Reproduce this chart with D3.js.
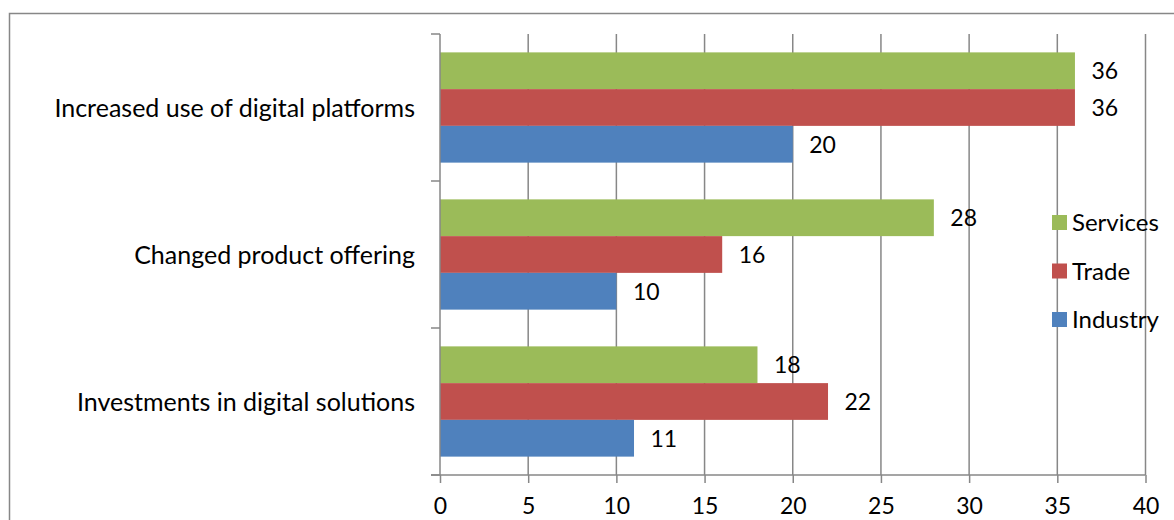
<!DOCTYPE html>
<html>
<head>
<meta charset="utf-8">
<script src="https://cdn.jsdelivr.net/npm/d3@7"></script>
<style>
  html, body { margin: 0; padding: 0; background: #fff; }
  svg { display: block; }
  text { font-family: Lato, "Open Sans", sans-serif; fill: #000; }
</style>
</head>
<body>
<svg id="chart" width="1174" height="520"></svg>
<script>
// Share of firms by measure and sector
const categories = ["Increased use of digital platforms", "Changed product offering", "Investments in digital solutions"];
const seriesNames = ["Services", "Trade", "Industry"];
const services = [36, 28, 18];
const trade = [36, 16, 22];
const industry = [20, 10, 11];
const xTicks = [0, 5, 10, 15, 20, 25, 30, 35, 40];
const colors = ["#9BBB59", "#C0504D", "#4F81BD"];

const seriesValues = [services, trade, industry];

const svg = d3.select("#chart");
const gridColor = "#878787";
const fontFamily = "Lato, 'Open Sans', sans-serif";
const labelSize = 25;   // category labels
const legendSize = 24;
const numberSize = 23;  // tick and value labels

// outer frame
svg.append("rect")
  .attr("x", 9.5).attr("y", 13.5)
  .attr("width", 1180).attr("height", 530)
  .attr("fill", "none").attr("stroke", gridColor).attr("stroke-width", 1.5);

const plot = { left: 440, right: 1145.5, top: 34, bottom: 475 };

const x = d3.scaleLinear().domain([0, 40]).range([plot.left, plot.right]);
const y = d3.scaleBand().domain(categories).range([plot.top, plot.bottom]).paddingInner(0).paddingOuter(0);
const ySub = d3.scaleBand().domain(seriesNames).range([0, y.bandwidth()]).paddingInner(0).paddingOuter(0.5);

// vertical gridlines
svg.append("g").selectAll("line")
  .data(xTicks.filter(t => t > 0))
  .join("line")
  .attr("x1", d => x(d)).attr("x2", d => x(d))
  .attr("y1", plot.top).attr("y2", plot.bottom)
  .attr("stroke", gridColor).attr("stroke-width", 1.5);

// bars
const rows = [];
categories.forEach((c, i) => {
  seriesNames.forEach((s, j) => {
    rows.push({ cat: c, series: s, value: seriesValues[j][i], color: colors[j] });
  });
});

svg.append("g").selectAll("rect")
  .data(rows)
  .join("rect")
  .attr("x", x(0))
  .attr("y", d => y(d.cat) + ySub(d.series))
  .attr("width", d => x(d.value) - x(0))
  .attr("height", ySub.bandwidth())
  .attr("fill", d => d.color);

// value labels
svg.append("g").selectAll("text")
  .data(rows)
  .join("text")
  .attr("x", d => x(d.value) + 16.5)
  .attr("y", d => y(d.cat) + ySub(d.series) + ySub.bandwidth() / 2)
  .attr("dy", "0.36em")
  .attr("font-size", numberSize)
  .text(d => d.value);

// x axis
const xAxis = d3.axisBottom(x).tickValues(xTicks).tickSize(8).tickPadding(15).tickSizeOuter(0);
const gx = svg.append("g").attr("transform", `translate(0,${plot.bottom})`).call(xAxis);
gx.select(".domain").remove();
gx.selectAll(".tick line").attr("stroke", gridColor).attr("stroke-width", 1.5);
gx.selectAll(".tick text").attr("font-size", numberSize).attr("font-family", fontFamily).attr("fill", "#000");
svg.append("line")
  .attr("x1", plot.left - 9).attr("x2", plot.right)
  .attr("y1", plot.bottom).attr("y2", plot.bottom)
  .attr("stroke", gridColor).attr("stroke-width", 1.5);

// y axis line and band boundary ticks
svg.append("line")
  .attr("x1", plot.left).attr("x2", plot.left)
  .attr("y1", plot.top).attr("y2", plot.bottom)
  .attr("stroke", gridColor).attr("stroke-width", 1.5);
const bounds = categories.map(c => y(c)).concat([plot.bottom]);
svg.append("g").selectAll("line")
  .data(bounds)
  .join("line")
  .attr("x1", plot.left - 9).attr("x2", plot.left)
  .attr("y1", d => d).attr("y2", d => d)
  .attr("stroke", gridColor).attr("stroke-width", 1.5);

// category labels
svg.append("g").selectAll("text")
  .data(categories)
  .join("text")
  .attr("x", 415)
  .attr("y", d => y(d) + y.bandwidth() / 2)
  .attr("dy", "0.36em")
  .attr("text-anchor", "end")
  .attr("font-size", labelSize)
  .text(d => d);

// legend
const legend = svg.append("g").attr("transform", "translate(1052,222.5)");
seriesNames.forEach((s, i) => {
  const g = legend.append("g").attr("transform", `translate(0,${i * 48.5})`);
  g.append("rect").attr("x", 0).attr("y", -7.5).attr("width", 15).attr("height", 15).attr("fill", colors[i]);
  g.append("text").attr("x", 20).attr("y", 0).attr("dy", "0.36em").attr("font-size", legendSize).text(s);
});
</script>
</body>
</html>
